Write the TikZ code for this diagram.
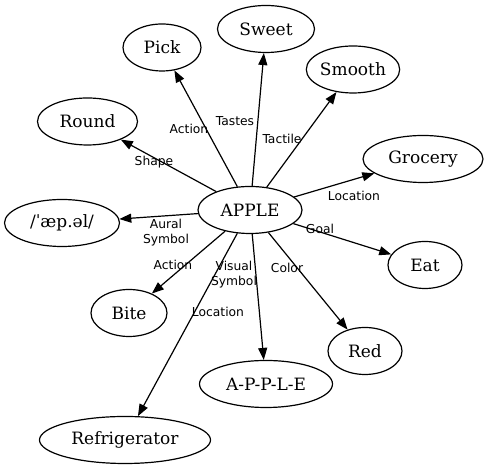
\documentclass[tikz,border=0pt]{standalone}
\usepackage{fontspec}
\setmainfont{DejaVu Serif}
\newfontfamily\lblfont{DejaVu Sans}
\usetikzlibrary{shapes.geometric,arrows.meta}
\begin{document}
\begin{tikzpicture}[x=1pt,y=1pt,
  concept/.style={ellipse,draw,line width=1.2pt,minimum height=47pt,inner sep=0pt,font=\fontsize{17}{20}\selectfont},
  lbl/.style={font=\lblfont\fontsize{12.3}{15}\selectfont,align=center,inner sep=0pt},
  rel/.style={line width=1.2pt,-{Triangle[length=12pt,width=9pt]}}]
\useasboundingbox (0,0) rectangle (488,470);
\node[concept,minimum width=104pt] (apple) at (250,260) {APPLE};
\node[concept,minimum width=78pt] (pick) at (162,422.5) {Pick};
\node[concept,minimum width=97pt] (sweet) at (266,441) {Sweet};
\node[concept,minimum width=92pt] (smooth) at (353,400.5) {Smooth};
\node[concept,minimum width=100pt] (round) at (87.5,348.5) {Round};
\node[concept,minimum width=120pt] (grocery) at (423,311) {Grocery};
\node[concept,minimum width=115pt] (pron) at (62,247) {/ˈæp.əl/};
\node[concept,minimum width=74pt] (eat) at (425,205) {Eat};
\node[concept,minimum width=76pt] (bite) at (129,157) {Bite};
\node[concept,minimum width=74pt] (red) at (365,119) {Red};
\node[concept,minimum width=133pt] (spell) at (266,86) {A-P-P-L-E};
\node[concept,minimum width=171pt] (fridge) at (125,30) {Refrigerator};
\draw[rel] (apple) -- (pick);
\draw[rel] (apple) -- (sweet);
\draw[rel] (apple) -- (smooth);
\draw[rel] (apple) -- (round);
\draw[rel] (apple) -- (grocery);
\draw[rel] (apple) -- (pron);
\draw[rel] (apple) -- (eat);
\draw[rel] (apple) -- (bite);
\draw[rel] (apple) -- (red);
\draw[rel] (apple) -- (spell);
\draw[rel] (apple) -- (fridge);
\node[lbl] (l1) at (189,341) {Action};
\node[lbl] (l2) at (235,349) {Tastes};
\node[lbl] (l3) at (282,331) {Tactile};
\node[lbl] (l4) at (154,308) {Shape};
\node[lbl] (l5) at (354,274) {Location};
\node[lbl] (l6) at (320,241) {Goal};
\node[lbl] (l7) at (166,237) {Aural\\Symbol};
\node[lbl] (l8) at (173,205) {Action};
\node[lbl] (l9) at (234,195) {Visual\\Symbol};
\node[lbl] (l10) at (287,202) {Color};
\node[lbl] (l11) at (218,158) {Location};
\end{tikzpicture}
\end{document}
